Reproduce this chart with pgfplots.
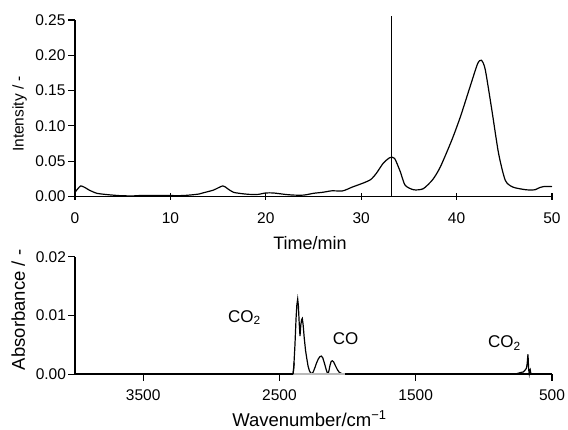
\documentclass[border=0pt]{standalone}
\usepackage{fontspec}
\setmainfont{Liberation Sans}
\usepackage{pgfplots}
\pgfplotsset{compat=1.18}
\begin{document}
\begin{tikzpicture}[x=1pt,y=1pt]
\path[use as bounding box] (0,0) rectangle (568,430);
\pgfplotsset{
  every axis/.append style={
    scale only axis,
    axis lines*=left,
    axis line style={line width=1.6pt, black},
    tick style={line width=1.2pt, black},
    tick label style={font=\fontsize{15.5}{18}\selectfont},
    /pgf/number format/assume math mode=true,
    scaled y ticks=false,
    clip=false,
    yticklabel style={/pgf/number format/fixed, /pgf/number format/fixed zerofill, /pgf/number format/precision=2, xshift=1pt},
  },
}
% ---------------- top: chromatogram ----------------
\begin{axis}[
  at={(75pt,233.5pt)}, anchor=south west,
  width=477pt, height=176.5pt,
  xmin=0, xmax=50, ymin=0, ymax=0.25,
  xtick={0,10,20,30,40,50},
  ytick={0,0.05,0.10,0.15,0.20,0.25},
  xtick align=center, ytick align=outside,
  major tick length=7pt,
  xticklabel style={yshift=-9pt},
  xlabel={Time/min},
  ylabel={Intensity / -},
  xlabel style={at={(axis description cs:0.4927,-0.3031)}, anchor=base, font=\fontsize{18}{20}\selectfont, inner sep=0pt},
  ylabel style={at={(axis description cs:-0.1159,0.4674)}, anchor=center, font=\fontsize{15.5}{17}\selectfont, inner sep=0pt},
]
\addplot[black, line width=1.2pt, smooth, tension=0.4] coordinates {
(0,0.006) (0.3,0.011) (0.6,0.015) (1.0,0.013) (1.5,0.009) (2.3,0.0045)
(3.5,0.0025) (4.7,0.0012) (6,0.0008) (7,0.0015) (9,0.0015) (11,0.0012)
(12,0.002) (13,0.0035) (13.5,0.0054) (14.5,0.009) (15.5,0.015) (16,0.011)
(16.6,0.006) (17.5,0.004) (18.3,0.003) (19.2,0.003) (20,0.005) (20.8,0.005)
(22,0.003) (22.9,0.002) (24,0.002) (25,0.0045) (26,0.006) (26.9,0.008)
(28,0.0078) (28.5,0.010) (29,0.013) (30.2,0.019) (31,0.024) (31.6,0.033)
(32.3,0.047) (33,0.055) (33.5,0.054) (34.1,0.035) (34.6,0.016) (35.5,0.0095)
(36.5,0.011) (37.5,0.024) (38.3,0.042) (39.5,0.080) (40.4,0.113) (41.4,0.155)
(42.2,0.188) (42.6,0.193) (43.0,0.180) (43.7,0.122) (44.4,0.061) (45.1,0.023)
(45.9,0.0133) (47.3,0.0095) (48.2,0.0095) (48.6,0.012) (49.1,0.014) (50,0.014)
};
\addplot[black, line width=1.4pt] coordinates {(33.2,0) (33.2,0.2557)};
\end{axis}
% ---------------- bottom: IR spectrum ----------------
\begin{axis}[
  at={(75pt,55.7pt)}, anchor=south west,
  width=477pt, height=117.6pt,
  x dir=reverse,
  xmin=500, xmax=4000, ymin=0, ymax=0.02,
  xtick={3500,2500,1500,500},
  ytick={0,0.01,0.02},
  tick align=outside,
  major tick length=6.5pt,
  xticklabel style={/pgf/number format/1000 sep={}, yshift=-5pt},
  xlabel={Wavenumber/cm\textsuperscript{−1}},
  ylabel={Absorbance / -},
  xlabel style={at={(axis description cs:0.4916,-0.440)}, anchor=base, font=\fontsize{18.5}{20}\selectfont, inner sep=0pt},
  ylabel style={at={(axis description cs:-0.1189,0.547)}, anchor=center, font=\fontsize{18.5}{20}\selectfont, inner sep=0pt},
]
\addplot[black, line width=1.2pt] coordinates {
(2400,0) (2394,0.0015) (2386,0.005) (2378,0.0095) (2372,0.0118) (2366,0.0128)
(2361,0.0117) (2355,0.0088) (2349,0.0065) (2343,0.0084) (2337,0.0093) (2332,0.0095)
(2326,0.0084) (2318,0.0062) (2308,0.0040) (2300,0.0028) (2290,0.0014) (2280,0.0006)
(2270,0.0002) (2263,0.0001) (2252,0.0004) (2240,0.0011) (2228,0.0019) (2215,0.0026)
(2203,0.0030) (2192,0.0031) (2182,0.0028) (2170,0.0019) (2158,0.0009) (2148,0.0002)
(2142,0.0001) (2136,0.0007) (2128,0.0016) (2120,0.0022) (2112,0.0023) (2102,0.0021)
(2090,0.0015) (2075,0.0008) (2060,0.0003) (2040,0.0001) (2018,0)
};
\addplot[black, line width=1.2pt] coordinates {
(800,0) (760,0.0001) (730,0.0003) (710,0.0004) (698,0.0007) (688,0.0010)
(682,0.0018) (678,0.0030) (676,0.0034) (674,0.0022) (671,0.0008) (667,0.0001)
(664,0.0006) (660,0.0008) (657,0.0004) (653,0) (640,0)
};
\node[anchor=base west, inner sep=0pt, font=\fontsize{17}{19}\selectfont] at (axis cs:2878,0.00885) {CO\textsubscript{2}};
\node[anchor=base west, inner sep=0pt, font=\fontsize{17}{19}\selectfont] at (axis cs:2110,0.00503) {CO};
\node[anchor=base west, inner sep=0pt, font=\fontsize{17}{19}\selectfont] at (axis cs:971,0.00456) {CO\textsubscript{2}};
\end{axis}
% overlay: grey baseline segment lying on the axis line
\begin{axis}[
  at={(75pt,55.7pt)}, anchor=south west,
  width=477pt, height=117.6pt,
  x dir=reverse, hide axis,
  xmin=500, xmax=4000, ymin=0, ymax=0.02,
]
\addplot[gray!55, line width=1.6pt] coordinates {(2398,0) (2018,0)};
\addplot[black, line width=1.2pt] coordinates {(2400,0) (2396,0.0008) (2392,0.002)};
\end{axis}
\end{tikzpicture}
\end{document}
